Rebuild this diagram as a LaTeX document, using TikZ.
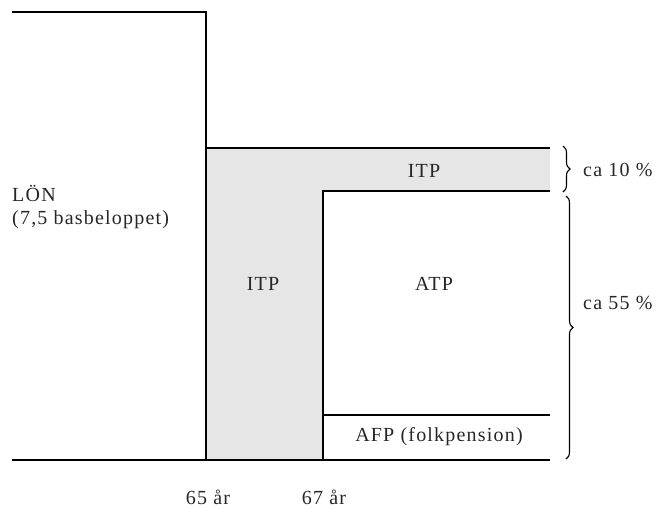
\documentclass[tikz,border=0pt]{standalone}
\usepackage{fontspec}
\setmainfont{Liberation Serif}[LetterSpace=6]
\usetikzlibrary{decorations.pathreplacing}
\definecolor{band}{RGB}{230,230,230}
\tikzset{
  ln/.style={line width=1.4pt},
  lbl/.style={font=\fontsize{20}{23}\selectfont, text=black!85, inner sep=1pt},
  brc/.style={decorate, decoration={brace, amplitude=7pt}, line width=1.1pt}
}
\begin{document}
\begin{tikzpicture}[x=1pt,y=-1pt]
\useasboundingbox (0,0) rectangle (662,507);
% gray ITP area
\fill[band] (206,148) -- (550,148) -- (550,191) -- (323,191) -- (323,460) -- (206,460) -- cycle;
% coordinates
\coordinate (tl) at (12,12);
\coordinate (tr) at (206,12);
\coordinate (b65) at (206,460);
\coordinate (bl) at (12,460);
\coordinate (br) at (550,460);
\coordinate (i1) at (206,148);
\coordinate (i2) at (550,148);
\coordinate (a1) at (323,191);
\coordinate (a2) at (550,191);
\coordinate (b67) at (323,460);
\coordinate (f1) at (323,415);
\coordinate (f2) at (550,415);
% lines
\draw[ln] (tl) -- (tr) -- (b65);
\draw[ln] (bl) -- (br);
\draw[ln] (i1) -- (i2);
\draw[ln] (a2) -- (a1) -- (b67);
\draw[ln] (f1) -- (f2);
% braces
\coordinate (s1) at (563,146);
\coordinate (s2) at (563,192);
\coordinate (l1) at (566,196);
\coordinate (l2) at (566,459);
\draw[brc] (s1) -- (s2);
\draw[brc] (l1) -- (l2);
% labels
\node[lbl, anchor=west] (p10) at (582,170) {ca 10 \%};
\node[lbl, anchor=west] (p55) at (582,303) {ca 55 \%};
\node[lbl] (itp1) at (424,171) {ITP};
\node[lbl] (itp2) at (263,284) {ITP};
\node[lbl] (atp) at (434,284) {ATP};
\node[lbl] (afp) at (439,437) {AFP (folkpension)};
\node[lbl, anchor=west, align=left] (lon) at (11,207) {LÖN\\(7,5 basbeloppet)};
\node[lbl] (y65) at (208,497) {65 år};
\node[lbl] (y67) at (324,497) {67 år};
\end{tikzpicture}
\end{document}
